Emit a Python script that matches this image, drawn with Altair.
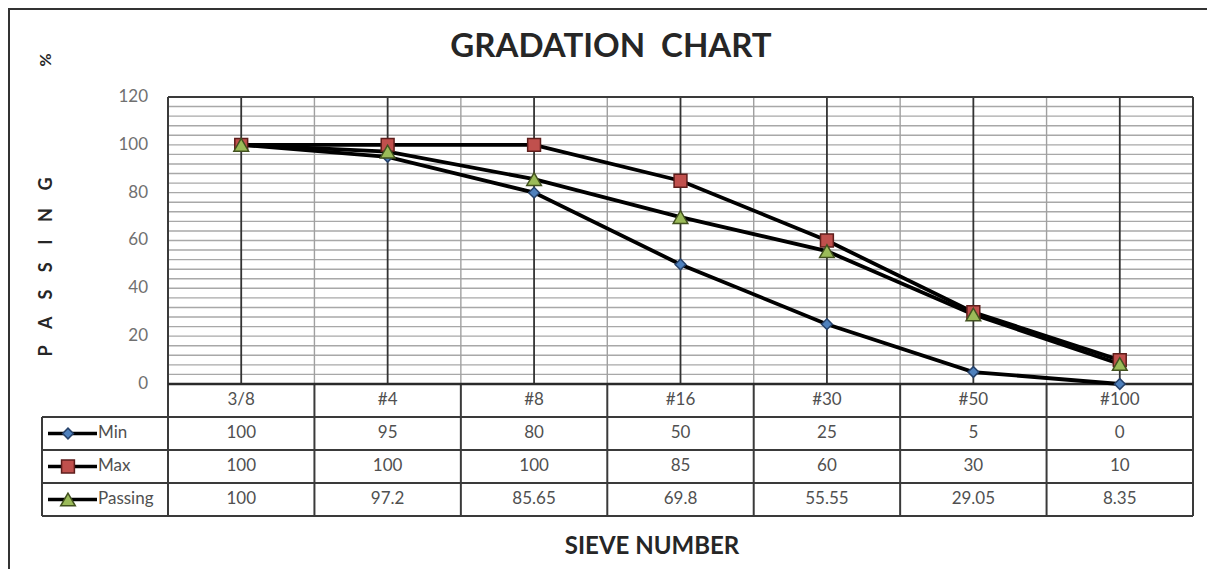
import altair as alt
import pandas as pd

# ---------------- data ----------------
sieves = ["3/8", "#4", "#8", "#16", "#30", "#50", "#100"]
min_vals = [100, 95, 80, 50, 25, 5, 0]
max_vals = [100, 100, 100, 85, 60, 30, 10]
passing_vals = [100, 97.2, 85.65, 69.8, 55.55, 29.05, 8.35]
series_names = ["Min", "Max", "Passing"]
y_ticks = [0, 20, 40, 60, 80, 100, 120]

# ---------------- layout constants ----------------
PLOT_W, PLOT_H = 1151, 419
N = len(sieves)
LEG = 0.8605          # legend column width, in category units
R = 13.8              # table row height, in y units
YMAX = 120
FONT = "Lato"
DARK = "#3a3a3a"

xs = alt.Scale(domain=[-LEG, N], nice=False, zero=False)
ys = alt.Scale(domain=[-4 * R, YMAX], nice=False, zero=False)

series_vals = {"Min": min_vals, "Max": max_vals, "Passing": passing_vals}
rows = []
for s in series_names:
    for i, (c, v) in enumerate(zip(sieves, series_vals[s])):
        rows.append({"series": s, "sieve": c, "x": i + 0.5, "value": v, "idx": i})
pts = pd.DataFrame(rows)

shape_scale = alt.Scale(domain=series_names, range=["diamond", "square", "triangle-up"])
fill_scale = alt.Scale(domain=series_names, range=["#4f81bd", "#c0504d", "#9bbb59"])
stroke_scale = alt.Scale(domain=series_names, range=["#26426b", "#5e1d1b", "#42521f"])
size_scale = alt.Scale(domain=series_names, range=[115, 215, 155])


def X(field):
    return alt.X(field, type="quantitative", scale=xs, axis=None)


def Y(field):
    return alt.Y(field, type="quantitative", scale=ys, axis=None)


def segs(items):
    return pd.DataFrame(items, columns=["x", "x2", "y", "y2"])


# grid lines
minor_h = segs([(0, N, v, v) for v in range(4, YMAX, 4)])
light_v = segs([(i, i, 0, YMAX) for i in range(1, N)])
dark_v = segs([(i + 0.5, i + 0.5, 0, YMAX) for i in range(N)])
borders = segs(
    [(0, N, YMAX, YMAX), (0, 0, -4 * R, YMAX), (N, N, -4 * R, YMAX)]
    + [(-LEG, N, -k * R, -k * R) for k in range(1, 5)]
    + [(i, i, -4 * R, 0) for i in range(1, N)]
    + [(-LEG, -LEG, -4 * R, -R)]
)
axis0 = segs([(0, N, 0, 0)])


def rule_layer(df, color, width):
    return alt.Chart(df).mark_rule(color=color, strokeWidth=width).encode(
        x=X("x"), x2="x2", y=Y("y"), y2="y2"
    )


grid_h = rule_layer(minor_h, "#a8a8a8", 1.4)
grid_lv = rule_layer(light_v, "#a0a0a0", 1.4)
grid_dv = rule_layer(dark_v, "#333333", 1.8)
border_l = rule_layer(borders, DARK, 2)
axis_l = rule_layer(axis0, "#2a2a2a", 2.6)

# y tick labels (through the y scale)
ytick_df = pd.DataFrame({"v": y_ticks, "t": [str(v) for v in y_ticks]})
ytick_l = alt.Chart(ytick_df).mark_text(font=FONT, fontSize=17, color="#707070",
                                        align="right", baseline="middle").encode(
    x=alt.value(106), y=Y("v"), text="t:N"
)

# series lines and markers
lines = alt.Chart(pts).mark_line(color="black", strokeWidth=3.8).encode(
    x=X("x"), y=Y("value"), detail="series:N", order="idx:Q",
)

markers = alt.Chart(pts).mark_point(filled=True, strokeWidth=1.5, opacity=1).encode(
    x=X("x"),
    y=Y("value"),
    shape=alt.Shape("series:N", scale=shape_scale, legend=None),
    fill=alt.Fill("series:N", scale=fill_scale, legend=None),
    stroke=alt.Stroke("series:N", scale=stroke_scale, legend=None),
    size=alt.Size("series:N", scale=size_scale, legend=None),
)

# data table text
header = pd.DataFrame({"x": [i + 0.5 for i in range(N)], "y": [-0.5 * R] * N, "t": sieves})
cells = pd.DataFrame([
    {"x": r["x"], "y": -(series_names.index(r["series"]) + 1.5) * R, "t": f"{r['value']:g}"}
    for _, r in pts.iterrows()
])
table_df = pd.concat([header, cells])
table_text = alt.Chart(table_df).mark_text(font=FONT, fontSize=17, color="#505050").encode(
    x=X("x"), y=Y("y"), text="t:N"
)

# legend column
leg = pd.DataFrame({
    "series": series_names,
    "y": [-(k + 1.5) * R for k in range(3)],
    "lx": [-0.8195] * 3, "lx2": [-0.4849] * 3, "mx": [-0.683] * 3, "tx": [-0.478] * 3,
})
leg_lines = alt.Chart(leg).mark_rule(color="black", strokeWidth=3.5).encode(
    x=X("lx"), x2="lx2", y=Y("y")
)
leg_marks = alt.Chart(leg).mark_point(filled=True, strokeWidth=1.5, opacity=1).encode(
    x=X("mx"), y=Y("y"),
    shape=alt.Shape("series:N", scale=shape_scale, legend=None),
    fill=alt.Fill("series:N", scale=fill_scale, legend=None),
    stroke=alt.Stroke("series:N", scale=stroke_scale, legend=None),
    size=alt.Size("series:N", scale=size_scale, legend=None),
)
leg_text = alt.Chart(leg).mark_text(font=FONT, fontSize=17, color="#505050", align="left").encode(
    x=X("tx"), y=Y("y"), text="series:N"
)

# decorations / titles
one = alt.Data(values=[{"a": 1}])
frame = alt.Chart(one).mark_rect(filled=False, stroke="#333333", strokeWidth=2).encode(
    x=alt.value(-33), x2=alt.value(1400), y=alt.value(-88), y2=alt.value(800)
)


def label(text, x, y, size, angle=0, baseline="middle"):
    return alt.Chart(one).mark_text(
        text=text, font=FONT, fontSize=size, fontWeight="bold", angle=angle,
        color="#262626", align="center", baseline=baseline
    ).encode(x=alt.value(x), y=alt.value(y))


NB = "\u00a0"
title = label("GRADATION" + NB * 2 + "CHART", 569, -40, 33, baseline="alphabetic")
pct = label("%", 4, -37, 16, angle=270)
ytitle = label((NB * 4).join("PASSING"), 5, 170, 18, angle=270)
xtitle = label("SIEVE NUMBER", 610, 450, 24)

chart = alt.layer(
    frame, grid_h, grid_lv, grid_dv, border_l, axis_l, ytick_l,
    lines, markers, table_text, leg_lines, leg_marks, leg_text,
    title, pct, ytitle, xtitle,
).properties(
    width=PLOT_W,
    height=PLOT_H,
    autosize=alt.AutoSizeParams(type="none"),
    padding={"left": 34, "top": 89, "right": 14, "bottom": 53},
).configure_view(strokeWidth=0)

chart.save("out.html", embed_options={"renderer": "svg", "actions": False})
